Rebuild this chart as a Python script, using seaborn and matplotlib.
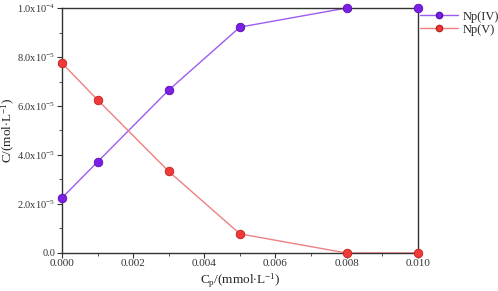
import matplotlib
matplotlib.use("Agg")
import math
import matplotlib.pyplot as plt
import seaborn as sns
import pandas as pd
from matplotlib.ticker import FuncFormatter, MultipleLocator, AutoMinorLocator
from matplotlib.lines import Line2D

cp = [0.000, 0.001, 0.003, 0.005, 0.008, 0.010]
np_iv = [2.25e-5, 3.72e-5, 6.65e-5, 9.22e-5, 1.0e-4, 1.0e-4]
np_v = [7.75e-5, 6.25e-5, 3.33e-5, 7.8e-6, 0.0, 0.0]
series = ["Np(IV)", "Np(V)"]

df = pd.DataFrame({
    "cp": cp * 2,
    "c": np_iv + np_v,
    "species": [series[0]] * len(cp) + [series[1]] * len(cp),
})

sns.set_style("ticks")
plt.rcParams["font.family"] = ["Liberation Serif", "DejaVu Serif"]
plt.rcParams["mathtext.fontset"] = "custom"
plt.rcParams["mathtext.rm"] = "Liberation Serif"
plt.rcParams["mathtext.it"] = "Liberation Serif:italic"

fig = plt.figure(figsize=(4.98, 2.91), dpi=100)
ax = fig.add_axes([0.1245, 0.1306, 0.7145, 0.8419])

line_colors = {"Np(IV)": "#9d5cf0", "Np(V)": "#ee8080"}
sns.lineplot(data=df, x="cp", y="c", hue="species", palette=line_colors,
             ax=ax, lw=1.0, legend=False, zorder=2)
mk_colors = {"Np(IV)": ("#7a1fe6", "#5a10b0"), "Np(V)": ("#f03a3a", "#c02020")}
for s in series:
    sub = df[df.species == s]
    ax.scatter(sub.cp, sub.c, s=38, color=mk_colors[s][0], edgecolor=mk_colors[s][1],
               linewidth=0.6, zorder=3, clip_on=False)

ax.set_xlim(0, 0.010)
ax.set_ylim(0, 1.0e-4)
ax.xaxis.set_major_locator(MultipleLocator(0.002))
ax.xaxis.set_minor_locator(AutoMinorLocator(2))
ax.yaxis.set_major_locator(MultipleLocator(2e-5))
ax.yaxis.set_minor_locator(AutoMinorLocator(2))
ax.xaxis.set_major_formatter(FuncFormatter(lambda v, p: f"{v:.3f}"))


def yfmt(v, p):
    if abs(v) < 1e-12:
        return "0.0"
    e = int(math.floor(math.log10(abs(v)) + 1e-9))
    m = v / 10 ** e
    return r"$\mathrm{%.1fx10^{%d}}$" % (m, e)


ax.yaxis.set_major_formatter(FuncFormatter(yfmt))
for sp in ax.spines.values():
    sp.set_visible(True)
    sp.set_color("#333333")
    sp.set_linewidth(1.0)
ax.tick_params(which="major", direction="out", length=3.5, width=0.8, labelsize=7.5, pad=1.5, colors="#333333")
ax.tick_params(which="minor", direction="out", length=2, width=0.6, colors="#333333")
ax.tick_params(top=False, right=False)
ax.tick_params(axis="x", pad=0.5, labelsize=8)

ax.set_xlabel(r"C$_\mathrm{p}$/(mmol$\cdot$L$^{-1}$)", fontsize=9.5, labelpad=3)
ax.set_ylabel(r"C/(mol$\cdot$L$^{-1}$)", fontsize=9.5)
ax.yaxis.set_label_coords(-0.127, 0.5)

handles = [Line2D([], [], color=line_colors[s], lw=1.0, marker="o", markersize=4.5,
                  markerfacecolor=mk_colors[s][0], markeredgecolor=mk_colors[s][1]) for s in series]
ax.legend(handles, series, loc="upper left", bbox_to_anchor=(1.0, 1.0), frameon=False,
          fontsize=9, handlelength=3.0, handletextpad=0.4, borderaxespad=0.0, labelspacing=0.1,
          borderpad=0.2)

fig.savefig("out.png", dpi=100)
